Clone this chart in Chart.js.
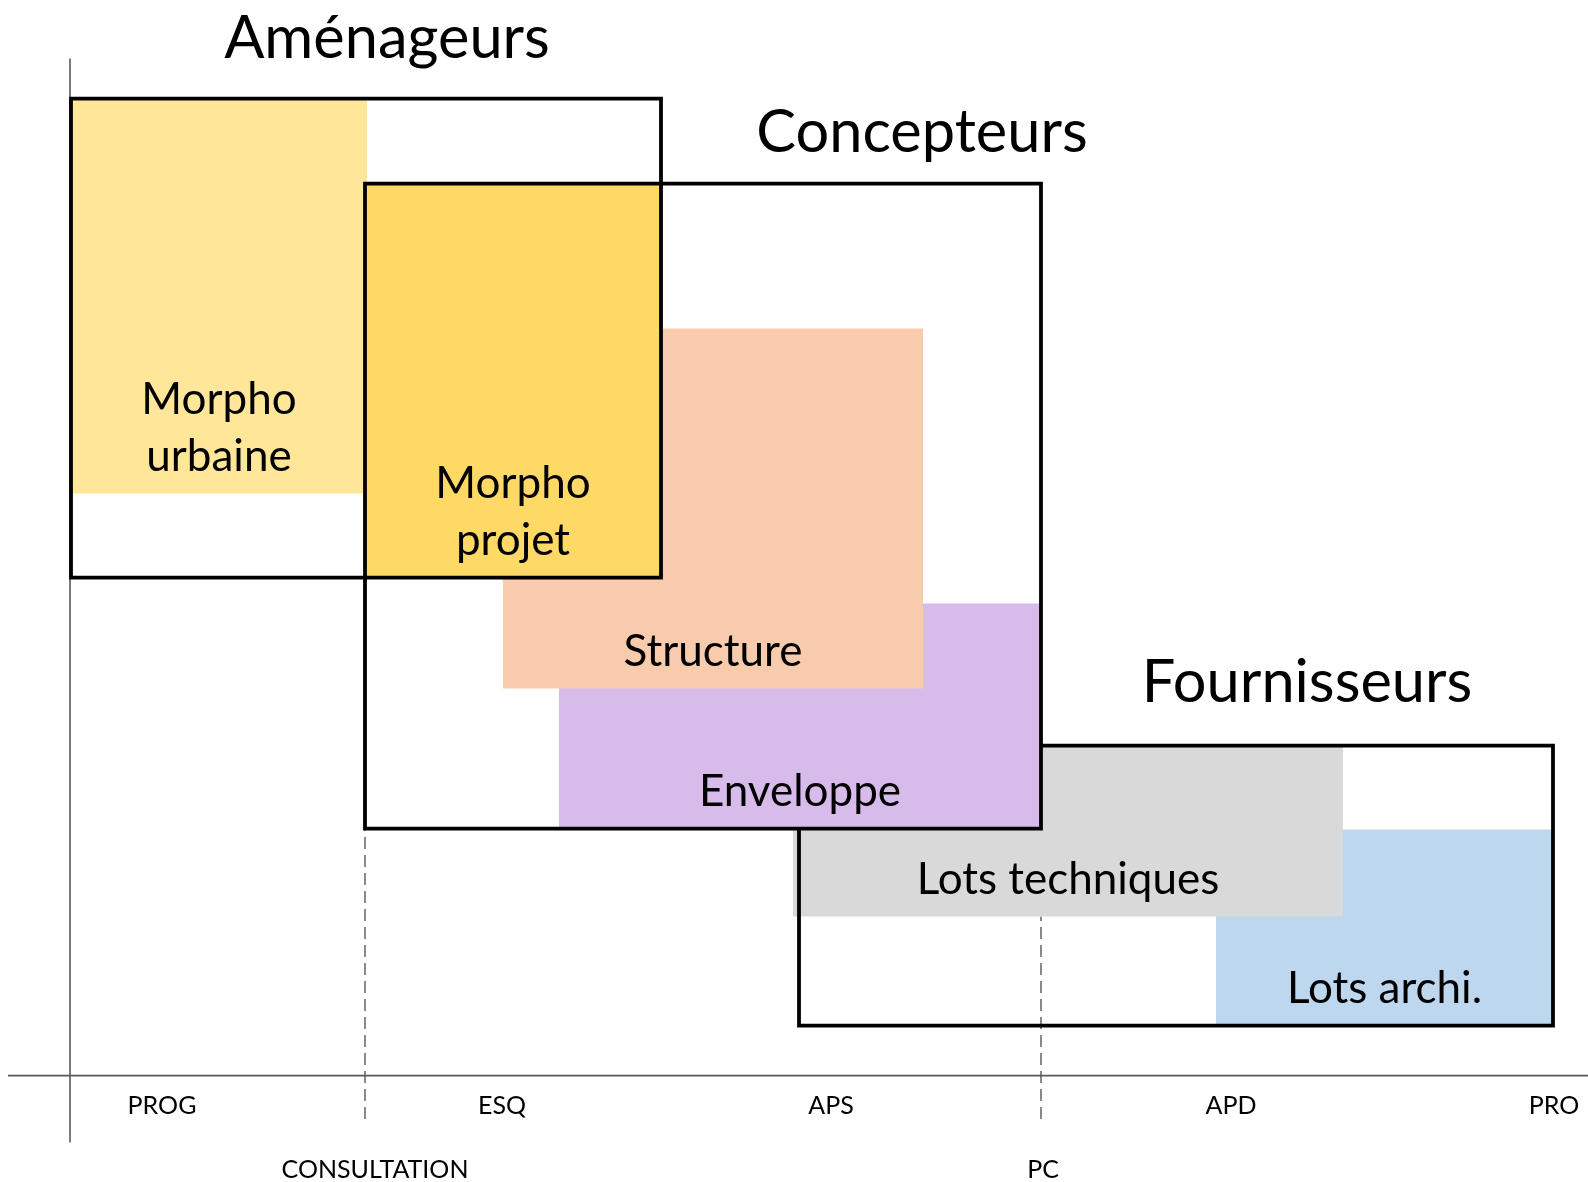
<!DOCTYPE html>
<html lang="fr">
<head>
<meta charset="utf-8">
<title>Aménageurs, concepteurs, fournisseurs</title>
<script src="https://cdn.jsdelivr.net/npm/chart.js@4.4.1/dist/chart.umd.min.js"></script>
<style>
  html, body { margin: 0; padding: 0; background: #fff; }
  #wrap { position: relative; width: 1588px; height: 1182px; }
</style>
</head>
<body>
<div id="wrap"><canvas id="chart"></canvas></div>
<script>
// Acteurs (cadres noirs)
const actors = ['Aménageurs', 'Concepteurs', 'Fournisseurs'];
const actorStart = [0.1, 29.5, 72.9];
const actorEnd = [59.1, 97.1, 148.3];
const actorBottom = [49.8, 24.7, 5.0];
const actorTop = [97.7, 89.2, 33.0];

// Lots (zones colorées)
const lots = [['Morpho', 'urbaine'], ['Morpho', 'projet'], ['Structure'], ['Enveloppe'], ['Lots techniques'], ['Lots archi.']];
const lotStart = [0.1, 29.5, 43.3, 48.9, 72.3, 114.6];
const lotEnd = [29.7, 59.1, 85.3, 97.1, 127.3, 148.3];
const lotBottom = [58.2, 49.8, 38.7, 24.7, 15.9, 5.0];
const lotTop = [97.7, 89.2, 74.7, 47.2, 33.0, 24.6];

// Phases et jalons
const phases = ['PROG', 'ESQ', 'APS', 'APD', 'PRO'];
const phasePos = [9.2, 43.2, 76.1, 116.1, 148.4];
const milestones = ['CONSULTATION', 'PC'];
const milestonePos = [29.5, 97.1];
const milestoneTop = [24.7, 15.9];

// Styles / placement des textes
const titleX = [31.7, 85.2, 123.7];
const titleY = [101.8, 92.4, 37.4];
const milestoneLabelX = [30.5, 97.3];
const lotColors = ['#FFE699', '#FFD966', '#F8CBAD', '#D7BBEA', '#D9D9D9', '#BDD7EE'];
const lotOrder = [4, 5, 6, 7, 9, 10];   // plus grand = dessiné en dessous
const actorOrder = [2, 3, 8];
const axisColor = '#595959';
const fontFamily = 'Lato, "Open Sans", sans-serif';

const datasets = [];

// axes
datasets.push({
    label: 'axe x',
    data: [{x: -6.2, y: 0}, {x: 151.8, y: 0}],
    borderColor: axisColor, borderWidth: 1.6, pointRadius: 0, fill: false, order: 20
});
datasets.push({
    label: 'axe y',
    data: [{x: 0, y: -6.7}, {x: 0, y: 101.7}],
    borderColor: axisColor, borderWidth: 1.6, pointRadius: 0, fill: false, order: 20
});

// jalons en pointillés
milestones.forEach((m, i) => {
    datasets.push({
        label: m,
        data: [{x: milestonePos[i], y: -4.35}, {x: milestonePos[i], y: milestoneTop[i]}],
        borderColor: axisColor, borderWidth: 1.4, borderDash: [12, 6],
        pointRadius: 0, fill: false, order: 19
    });
});

// zones colorées
lots.forEach((name, i) => {
    datasets.push({
        label: name.join(' '),
        data: [{x: lotStart[i], y: lotTop[i]}, {x: lotEnd[i], y: lotTop[i]}],
        borderColor: 'transparent', borderWidth: 0, pointRadius: 0,
        backgroundColor: lotColors[i],
        fill: {value: lotBottom[i]},
        order: lotOrder[i]
    });
});

// cadres
actors.forEach((name, i) => {
    datasets.push({
        label: name,
        data: [
            {x: actorStart[i], y: actorBottom[i]},
            {x: actorEnd[i], y: actorBottom[i]},
            {x: actorEnd[i], y: actorTop[i]},
            {x: actorStart[i], y: actorTop[i]},
            {x: actorStart[i], y: actorBottom[i]}
        ],
        borderColor: '#000', borderWidth: 3.8, pointRadius: 0,
        borderJoinStyle: 'miter', borderCapStyle: 'square',
        fill: false, order: actorOrder[i]
    });
});

// Textes
const labelPlugin = {
    id: 'labels',
    afterDatasetsDraw(chart) {
        const {ctx, scales: {x, y}} = chart;
        ctx.save();
        ctx.fillStyle = '#000';
        ctx.textAlign = 'center';
        ctx.textBaseline = 'alphabetic';

        ctx.font = '59.5px ' + fontFamily;
        actors.forEach((t, i) => {
            ctx.fillText(t, x.getPixelForValue(titleX[i]), y.getPixelForValue(titleY[i]));
        });

        ctx.font = '44px ' + fontFamily;
        lots.forEach((lines, i) => {
            const cx = x.getPixelForValue((lotStart[i] + lotEnd[i]) / 2);
            lines.forEach((line, j) => {
                const base = lotBottom[i] + 2.3 + (lines.length - 1 - j) * 5.65;
                ctx.fillText(line, cx, y.getPixelForValue(base));
            });
        });

        ctx.font = '25px ' + fontFamily;
        phases.forEach((p, i) => {
            ctx.fillText(p, x.getPixelForValue(phasePos[i]), y.getPixelForValue(-3.8));
        });
        milestones.forEach((m, i) => {
            ctx.fillText(m, x.getPixelForValue(milestoneLabelX[i]), y.getPixelForValue(-10.2));
        });
        ctx.restore();
    }
};

new Chart(document.getElementById('chart'), {
    type: 'line',
    data: {datasets},
    options: {
        responsive: true,
        maintainAspectRatio: false,
        animation: false,
        events: [],
        layout: {padding: 0},
        elements: {line: {tension: 0}},
        scales: {
            x: {type: 'linear', min: -7, max: 151.8, display: false},
            y: {type: 'linear', min: -10.64, max: 107.56, display: false}
        },
        plugins: {
            legend: {display: false},
            tooltip: {enabled: false}
        }
    },
    plugins: [labelPlugin]
});
</script>
</body>
</html>
